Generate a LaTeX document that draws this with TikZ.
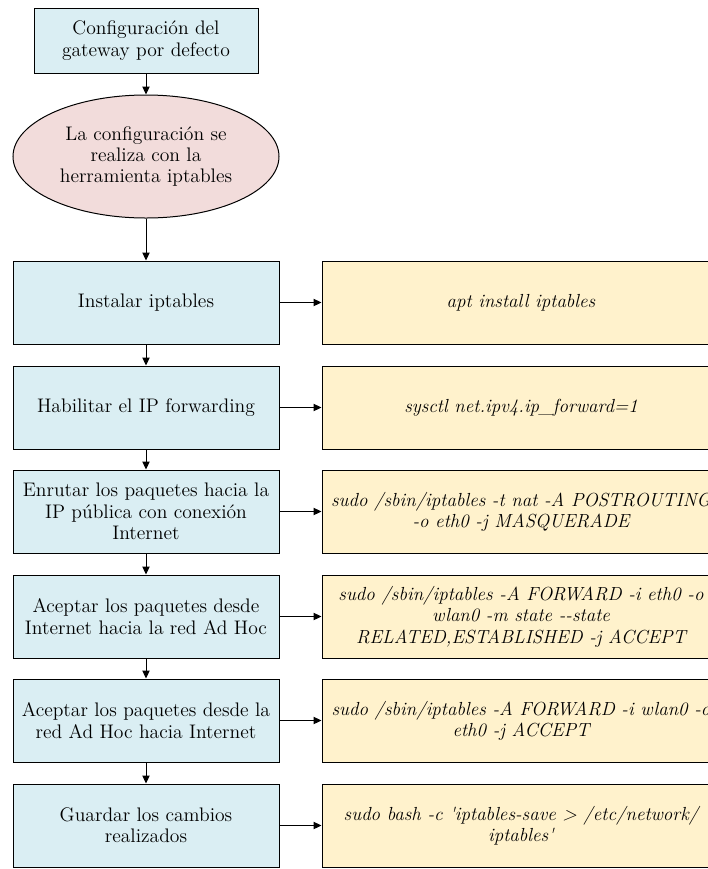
\documentclass[tikz,border=0pt]{standalone}
\usetikzlibrary{arrows.meta,shapes.geometric}
\definecolor{stepblue}{HTML}{DAEEF3}
\definecolor{ovalpink}{HTML}{F2DCDB}
\definecolor{cmdyellow}{HTML}{FFF2CC}
\newcommand{\sq}{\textquotesingle}
\begin{document}
\begin{tikzpicture}[x=0.75pt,y=-0.75pt,
  every node/.style={align=center, inner sep=0pt,
    font=\fontsize{14.7}{16}\selectfont},
  stepbox/.style={draw=black, line width=0.75pt, fill=stepblue,
    rectangle, minimum width=199.5pt, minimum height=62.25pt},
  titlebox/.style={stepbox, minimum width=168pt, minimum height=48.75pt},
  ovalbox/.style={draw=black, line width=0.75pt, fill=ovalpink,
    ellipse, minimum width=199.5pt, minimum height=92.25pt},
  cmdbox/.style={draw=black, line width=0.75pt, fill=cmdyellow,
    rectangle, minimum width=298.5pt, minimum height=62.25pt,
    font=\fontsize{14.2}{16}\selectfont\itshape},
  link/.style={-{Triangle[length=6pt,width=5.5pt]}, line width=0.75pt}
]
\clip (0,0) rectangle (708,869);

% header and tool
\node[titlebox] (top) at (146,40.5) {Configuración del\\gateway por defecto};
\node[ovalbox] (oval) at (146,156.5) {La configuración se\\realiza con la\\herramienta iptables};

% steps
\node[stepbox] (s1) at (146,302.5) {Instalar iptables};
\node[stepbox] (s2) at (146,407.5) {Habilitar el IP forwarding};
\node[stepbox] (s3) at (146,511.5) {Enrutar los paquetes hacia la\\IP pública con conexión\\Internet};
\node[stepbox] (s4) at (146,616.5) {Aceptar los paquetes desde\\Internet hacia la red Ad Hoc};
\node[stepbox] (s5) at (146,720.5) {Aceptar los paquetes desde la\\red Ad Hoc hacia Internet};
\node[stepbox] (s6) at (146,825.5) {Guardar los cambios\\realizados};

% commands
\node[cmdbox] (c1) at (521,302.5) {apt install iptables};
\node[cmdbox] (c2) at (521,407.5) {sysctl net.ipv4.ip\_forward=1};
\node[cmdbox] (c3) at (521,511.5) {sudo /sbin/iptables -t nat -A POSTROUTING\\-o eth0 -j MASQUERADE};
\node[cmdbox] (c4) at (521,616.5) {sudo /sbin/iptables -A FORWARD -i eth0 -o\\wlan0 -m state -{}-state\\RELATED,ESTABLISHED -j ACCEPT};
\node[cmdbox] (c5) at (521,720.5) {sudo /sbin/iptables -A FORWARD -i wlan0 -o\\eth0 -j ACCEPT};
\node[cmdbox] (c6) at (521,825.5) {sudo bash -c \sq iptables-save > /etc/network/\\iptables\sq};

% flow
\draw[link] (top) -- (oval);
\draw[link] (oval) -- (s1);
\foreach \a/\b in {s1/s2,s2/s3,s3/s4,s4/s5,s5/s6} \draw[link] (\a) -- (\b);
\foreach \i in {1,...,6} \draw[link] (s\i) -- (c\i);
\end{tikzpicture}
\end{document}
